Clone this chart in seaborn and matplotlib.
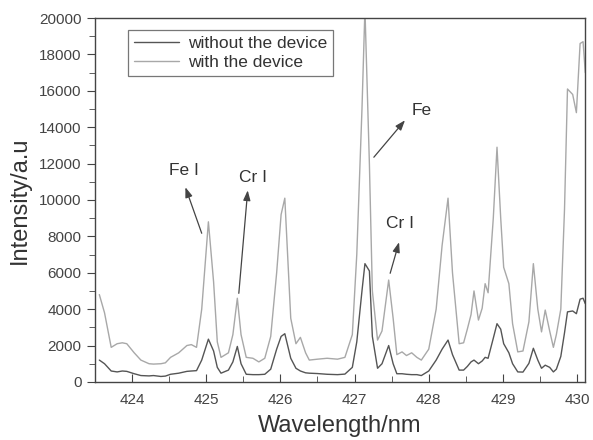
import numpy as np
import pandas as pd
import matplotlib
matplotlib.use("Agg")
import matplotlib.pyplot as plt
import seaborn as sns

wavelength = [423.56, 423.63, 423.72, 423.80, 423.87, 423.93, 424.03, 424.12, 424.23, 424.29,
              424.39, 424.45, 424.52, 424.63, 424.74, 424.80, 424.87, 424.94, 425.03, 425.10,
              425.15, 425.20, 425.30, 425.36, 425.42, 425.47, 425.54, 425.63, 425.71, 425.79,
              425.87, 425.95, 426.01, 426.06, 426.14, 426.21, 426.27, 426.34, 426.39, 426.50,
              426.63, 426.77, 426.87, 426.97, 427.03, 427.10, 427.14, 427.20, 427.24, 427.31,
              427.37, 427.46, 427.52, 427.57, 427.64, 427.70, 427.77, 427.84, 427.90, 428.00,
              428.10, 428.18, 428.26, 428.32, 428.41, 428.47, 428.52, 428.57, 428.61, 428.67,
              428.72, 428.76, 428.80, 428.87, 428.92, 428.97, 429.01, 429.08, 429.13, 429.20,
              429.27, 429.35, 429.41, 429.47, 429.52, 429.57, 429.63, 429.68, 429.72, 429.78,
              429.83, 429.87, 429.94, 429.99, 430.04, 430.08, 430.11]

with_device = [4800, 3800, 1900, 2100, 2150, 2100, 1600, 1200, 1000, 980,
               1000, 1050, 1350, 1600, 2000, 2050, 1900, 4000, 8800, 5500,
               2200, 1350, 1600, 2600, 4600, 2600, 1350, 1300, 1100, 1300,
               2500, 6000, 9200, 10100, 3500, 2100, 2450, 1600, 1200, 1250,
               1300, 1250, 1350, 2600, 7000, 15000, 20500, 12000, 5000, 2300,
               2800, 5600, 3500, 1500, 1650, 1450, 1600, 1350, 1200, 1800,
               4000, 7500, 10100, 6000, 2100, 2150, 2900, 3700, 5000, 3400,
               4050, 5400, 4900, 9000, 12900, 9000, 6300, 5400, 3200, 1650,
               1700, 3300, 6500, 4000, 2750, 3950, 2800, 1900, 2600, 4000,
               9500, 16100, 15800, 14800, 18600, 18700, 17000]

without_device = [1200, 1000, 600, 550, 600, 580, 450, 350, 330, 350,
                  300, 320, 420, 480, 580, 600, 620, 1200, 2350, 1700,
                  800, 480, 650, 1100, 1950, 1000, 420, 400, 400, 420,
                  700, 1800, 2500, 2650, 1300, 750, 600, 500, 480, 460,
                  420, 400, 430, 800, 2200, 5000, 6500, 6100, 2500, 750,
                  1000, 2000, 1000, 450, 450, 420, 400, 400, 350, 600,
                  1200, 1800, 2300, 1500, 650, 650, 850, 1100, 1200, 1000,
                  1150, 1350, 1300, 2400, 3200, 2900, 2100, 1600, 1000, 550,
                  540, 1020, 1850, 1200, 750, 920, 800, 550, 700, 1400,
                  2700, 3850, 3900, 3750, 4550, 4600, 4300]

series_labels = ["without the device", "with the device"]
series_colors = ["#555555", "#a8a8a8"]

df = pd.concat([
    pd.DataFrame({"Wavelength": wavelength, "Intensity": without_device, "series": series_labels[0]}),
    pd.DataFrame({"Wavelength": wavelength, "Intensity": with_device, "series": series_labels[1]}),
], ignore_index=True)

sns.set_style("white")
plt.rcParams["font.family"] = ["Liberation Sans", "DejaVu Sans"]

fig = plt.figure(figsize=(5.93, 4.40), dpi=100)
ax = fig.add_axes([0.160, 0.132, 0.827, 0.827])

sns.lineplot(data=df, x="Wavelength", y="Intensity", hue="series", hue_order=series_labels,
             palette=dict(zip(series_labels, series_colors)), linewidth=1.0, ax=ax,
             sort=False, estimator=None)

ax.set_xlim(423.56, 430.11)
ax.set_ylim(0, 20000)
ax.set_xticks([424, 425, 426, 427, 428, 429, 430])
ax.set_xticks(np.arange(423.5, 430.5, 0.5), minor=True)
ax.set_yticks(np.arange(0, 20001, 2000))
ax.set_yticks(np.arange(0, 20001, 1000), minor=True)
ax.tick_params(axis="x", which="both", direction="in", bottom=True, colors="#444444",
               labelsize=11, pad=8)
ax.tick_params(axis="x", which="major", length=6)
ax.tick_params(axis="x", which="minor", length=4)
ax.tick_params(axis="y", which="both", direction="out", left=True, colors="#444444",
               labelsize=11)
ax.tick_params(axis="y", which="major", length=6)
ax.tick_params(axis="y", which="minor", length=4)

for s in ax.spines.values():
    s.set_color("#444444")
    s.set_linewidth(1.0)

ax.set_xlabel("Wavelength/nm", fontsize=17, color="#333333", labelpad=6)
ax.set_ylabel("Intensity/a.u", fontsize=17, color="#333333", labelpad=6)

leg = ax.legend(loc="upper left", bbox_to_anchor=(0.067, 0.967), borderaxespad=0,
                fontsize=12.5, frameon=True,
                fancybox=False, edgecolor="#555555", handlelength=2.6, borderpad=0.35,
                labelspacing=0.2, handletextpad=0.5)
leg.get_frame().set_linewidth(0.9)
for t in leg.get_texts():
    t.set_color("#333333")

arrow = dict(arrowstyle="-|>,head_length=0.5,head_width=0.18", color="#444444", lw=0.9,
             mutation_scale=12, shrinkA=0, shrinkB=0)
ann = [("Fe I", (424.72, 10700), (424.94, 8170), (424.70, 11630)),
       ("Cr I", (425.56, 10530), (425.44, 4870), (425.63, 11250)),
       ("Fe", (427.68, 14380), (427.26, 12350), (427.90, 14930)),
       ("Cr I", (427.60, 7680), (427.48, 5970), (427.61, 8720))]
for text, tip, tail, pos in ann:
    ax.annotate("", xy=tip, xytext=tail, arrowprops=arrow)
    ax.text(pos[0], pos[1], text, fontsize=12.5, color="#333333", ha="center", va="center")

fig.savefig("out.png", dpi=100)
